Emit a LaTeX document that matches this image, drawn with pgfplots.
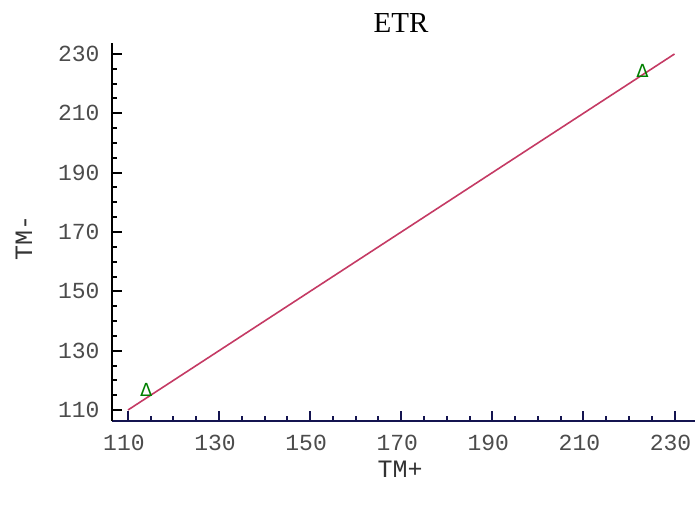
\documentclass[border=0pt]{standalone}
\usepackage{fontspec}
\setmainfont{Liberation Serif}
\newfontfamily\mono{Liberation Mono}
\newfontfamily\dejavu{DejaVu Sans}
\usepackage{pgfplots}
\pgfplotsset{compat=1.18}
\definecolor{linec}{RGB}{196,58,100}
\definecolor{markc}{RGB}{0,128,0}
\definecolor{navy}{RGB}{20,20,80}
\begin{document}
\begin{tikzpicture}[x=1pt,y=1pt]
\useasboundingbox (0,0) rectangle (695,512);
\node[font=\fontsize{29}{32}\selectfont] at (401,489) {ETR};
\node[font=\mono\fontsize{25}{28}\selectfont, text=black!80] at (400,43) {TM+};
\node[font=\mono\fontsize{25}{28}\selectfont, text=black!80, rotate=90] at (24,274) {TM-};
\begin{axis}[
  at={(112pt,91pt)}, anchor=south west,
  scale only axis, width=583pt, height=378pt,
  xmin=106.5, xmax=234.5, ymin=106.3, ymax=233.7,
  axis x line*=bottom, axis y line*=left,
  x axis line style={navy, line width=2pt, -},
  y axis line style={black, line width=2pt, -},
  xtick={110,130,...,230}, ytick={110,130,...,230},
  minor tick num=3,
  tick align=inside,
  major tick length=10pt, minor tick length=5pt,
  every tick/.style={line width=2pt},
  xtick style={navy}, ytick style={black},
  /pgf/number format/assume math mode=true,
  tick label style={font=\mono\fontsize{23}{26}\selectfont, color=black!70},
  xticklabel style={yshift=-11pt, xshift=-4pt},
  yticklabel style={xshift=-9pt},
  clip=false,
]
\addplot[linec, line width=1.6pt] coordinates {(110,110) (230,230)};
\addplot[markc, only marks, mark=text, text mark={\fontsize{18}{19}\dejavu\color{markc}Δ}] coordinates {(114,116.7) (223,224.4)};
\end{axis}
\end{tikzpicture}
\end{document}
